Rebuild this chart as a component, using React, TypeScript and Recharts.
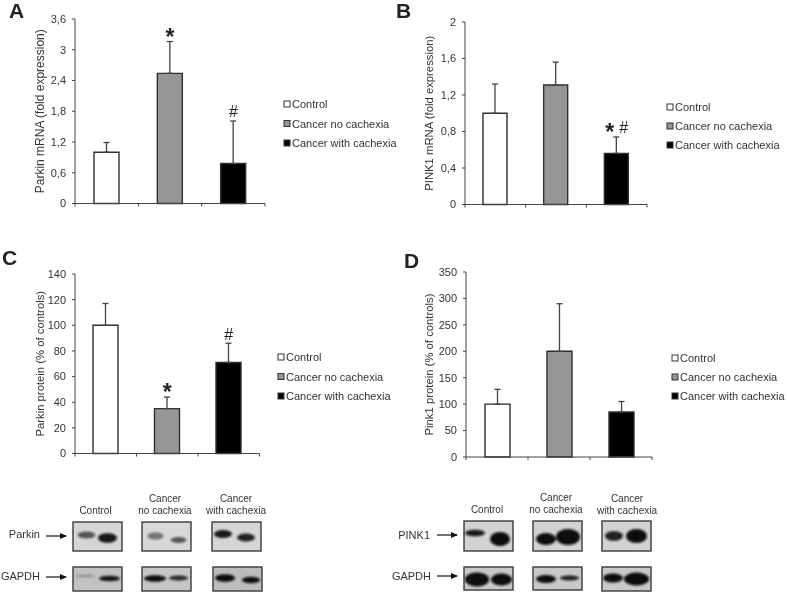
import { Bar, Cell, ComposedChart, ErrorBar, LabelList, Line, XAxis, YAxis } from 'recharts'

const CATEGORIES = ['Control', 'Cancer no cachexia', 'Cancer with cachexia']
const BAR_COLORS = ['#ffffff', '#969696', '#000000']

const parkinMrnaValues = [1.0, 2.54, 0.78]
const parkinMrnaErrors = [0.19, 0.62, 0.83]
const parkinMrnaMarks = ['', '*', '#']
const parkinMrnaTicks = [0, 0.6, 1.2, 1.8, 2.4, 3, 3.6]

const pink1MrnaValues = [1.0, 1.31, 0.56]
const pink1MrnaErrors = [0.32, 0.25, 0.18]
const pink1MrnaMarks = ['', '', '* #']
const pink1MrnaTicks = [0, 0.4, 0.8, 1.2, 1.6, 2]

const parkinProteinValues = [100, 35, 71]
const parkinProteinErrors = [17, 9, 15]
const parkinProteinMarks = ['', '*', '#']
const parkinProteinTicks = [0, 20, 40, 60, 80, 100, 120, 140]

const pink1ProteinValues = [100, 200, 85]
const pink1ProteinErrors = [28, 90, 20]
const pink1ProteinMarks = ['', '', '']
const pink1ProteinTicks = [0, 50, 100, 150, 200, 250, 300, 350]

const FONT = '"Liberation Sans", Arial, sans-serif'
const INK = '#333333'

type Row = { name: string; value: number; err: [number, number]; top: number; mark: string }

function rows(values: number[], errors: number[], marks: string[]): Row[] {
  return CATEGORIES.map((name, i) => ({
    name,
    value: values[i],
    err: [0, errors[i]],
    top: values[i] + errors[i],
    mark: marks[i],
  }))
}

function MarkLabel(props: any) {
  const { x, y, value } = props
  if (!value) return null
  return (
    <g>
      {String(value)
        .split(' ')
        .map((m: string, i: number, all: string[]) => {
          const dx = all.length > 1 ? (i === 0 ? -7 : 7) : 0
          const star = m === '*'
          return (
            <text
              key={i}
              x={x + dx}
              y={star ? y + 3 : y - 3.5}
              textAnchor="middle"
              fontFamily={FONT}
              fontSize={star ? 23 : 16}
              fontWeight={star ? 'bold' : 'normal'}
              fill="#222"
            >
              {m}
            </text>
          )
        })}
    </g>
  )
}

// category axis ticks sit on the band edges, not the band centres
function edgeTick(band: number) {
  return (props: any) => {
    const { x, y, index } = props
    const left = x - band / 2
    return (
      <g stroke="#444" strokeWidth={1}>
        <line x1={left} x2={left} y1={y} y2={y + 3} />
        {index === CATEGORIES.length - 1 ? <line x1={left + band} x2={left + band} y1={y} y2={y + 3} /> : null}
      </g>
    )
  }
}

type PanelProps = {
  left: number
  right: number
  top: number
  bottom: number
  data: Row[]
  ticks: number[]
  max: number
  barSize: number
  title: string
  titleSize: number
  titleX: number
}

const PAD_L = 60
const PAD_T = 10
const PAD_R = 10
const PAD_B = 20

function Panel({ left, right, top, bottom, data, ticks, max, barSize, title, titleSize, titleX }: PanelProps) {
  const plotW = right - left
  const plotH = bottom - top
  return (
    <div style={{ position: 'absolute', left: left - PAD_L, top: top - PAD_T }}>
      <ComposedChart
        width={plotW + PAD_L + PAD_R}
        height={plotH + PAD_T + PAD_B}
        data={data}
        margin={{ top: PAD_T, right: PAD_R, left: 0, bottom: 0 }}
      >
        <XAxis
          dataKey="name"
          height={PAD_B}
          interval={0}
          tickLine={false}
          tickSize={0}
          tickMargin={0}
          tick={edgeTick(plotW / CATEGORIES.length)}
          stroke="#444"
        />
        <YAxis
          width={PAD_L}
          domain={[0, max]}
          ticks={ticks}
          interval={0}
          tickSize={3}
          tickMargin={6}
          stroke="#444"
          tick={{ fontSize: 11, fontFamily: FONT, fill: INK }}
          tickFormatter={(v: number) => String(v).replace('.', ',')}
          label={{
            value: title,
            angle: -90,
            position: 'insideLeft',
            offset: titleX - (left - PAD_L),
            textAnchor: 'middle',
            style: { fontSize: titleSize, fontFamily: FONT, fill: INK, textAnchor: 'middle' },
          }}
        />
        <Bar dataKey="value" barSize={barSize} stroke="#2f2f2f" strokeWidth={1.4} isAnimationActive={false}>
          {data.map((d, i) => (
            <Cell key={d.name} fill={BAR_COLORS[i]} />
          ))}
          <ErrorBar dataKey="err" direction="y" width={3} stroke="#444" strokeWidth={1.3} isAnimationActive={false} />
        </Bar>
        <Line dataKey="top" stroke="none" dot={false} activeDot={false} isAnimationActive={false}>
          <LabelList dataKey="mark" content={MarkLabel} />
        </Line>
      </ComposedChart>
    </div>
  )
}

function LegendBlock({ x, y, gap }: { x: number; y: number; gap: number }) {
  return (
    <g fontFamily={FONT} fontSize={11} fill={INK}>
      {CATEGORIES.map((name, i) => (
        <g key={name}>
          <rect x={x} y={y + i * gap - 3} width={6} height={6} fill={BAR_COLORS[i]} stroke="#333" strokeWidth={1} />
          <text x={x + 8} y={y + i * gap + 4}>
            {name}
          </text>
        </g>
      ))}
    </g>
  )
}

type Band = [number, number, number, number, number]
type Blot = { x: number; y: number; w: number; h: number; bg: string; bands: Band[] }

// western blot strips, drawn as blurred bands: [cx, cy, rx, ry, opacity]
const BLOTS: Blot[] = [
  { x: 73, y: 522, w: 49, h: 29, bg: '#d6d6d6', bands: [[13.5, 13, 9, 3.5, 0.6], [34.5, 16, 9.5, 4.8, 0.95]] },
  { x: 142, y: 522, w: 49, h: 29, bg: '#d8d8d8', bands: [[13.5, 14, 8, 3.8, 0.45], [36.5, 18, 8, 3, 0.6]] },
  { x: 212, y: 522, w: 49, h: 29, bg: '#d6d6d6', bands: [[11, 12, 9, 4, 0.95], [34, 15.5, 9, 4, 0.9]] },
  { x: 73, y: 567, w: 49, h: 24, bg: '#c2c2c2', bands: [[12, 9, 10, 1.2, 0.3], [36.5, 11.5, 10.5, 2.8, 0.95]] },
  { x: 142, y: 567, w: 49, h: 24, bg: '#c6c6c6', bands: [[13, 11.5, 11, 3.3, 1], [36.5, 11, 9.5, 2.4, 0.85]] },
  { x: 213, y: 567, w: 49, h: 24, bg: '#bcbcbc', bands: [[12, 11, 10, 3.8, 1], [38, 13, 9, 3.2, 1]] },
  { x: 464, y: 521, w: 49, h: 30, bg: '#d2d2d2', bands: [[11, 12, 10, 3.2, 0.95], [36, 18, 10, 7, 1]] },
  { x: 533, y: 521, w: 49, h: 30, bg: '#d2d2d2', bands: [[13, 18, 10, 6, 1], [35, 16, 12, 8, 1]] },
  { x: 602, y: 521, w: 49, h: 30, bg: '#d2d2d2', bands: [[12, 15, 9, 4.8, 0.9], [34.5, 15, 10.5, 7, 1]] },
  { x: 464, y: 567, w: 49, h: 23, bg: '#c8c8c8', bands: [[13, 12.5, 12, 7, 1], [37.5, 12.5, 10.5, 6, 1]] },
  { x: 533, y: 567, w: 49, h: 23, bg: '#c8c8c8', bands: [[13, 12, 10, 4, 1], [36.5, 11, 9.5, 2.4, 0.9]] },
  { x: 602, y: 567, w: 49, h: 24, bg: '#c8c8c8', bands: [[11, 11, 10, 4.5, 1], [34.5, 12, 12.5, 6.5, 1]] },
]

type Caption = [string, number, number]
const CAPTIONS: Caption[] = [
  ['Control', 95.5, 514],
  ['Cancer', 165, 502],
  ['no cachexia', 165, 514],
  ['Cancer', 236, 502],
  ['with cachexia', 236, 514],
  ['Control', 487, 513],
  ['Cancer', 556, 501],
  ['no cachexia', 556, 513],
  ['Cancer', 627, 502],
  ['with cachexia', 627, 514],
]

const ROW_LABELS: Caption[] = [
  ['Parkin', 40, 538],
  ['GAPDH', 40, 580],
  ['PINK1', 430, 539],
  ['GAPDH', 431, 580],
]

const ARROWS: [number, number, number][] = [
  [46, 66, 536],
  [46, 66, 577],
  [437, 457, 535],
  [437, 457, 576],
]

const LETTERS: Caption[] = [
  ['A', 9, 18],
  ['B', 396, 18],
  ['C', 2, 265],
  ['D', 404, 268],
]

export default function App() {
  return (
    <div
      style={{
        position: 'absolute',
        left: 0,
        top: 0,
        width: 787,
        height: 595,
        overflow: 'hidden',
        background: '#fff',
        filter: 'blur(0.35px)',
      }}
    >
      <Panel left={75} right={265} top={19} bottom={203.5} data={rows(parkinMrnaValues, parkinMrnaErrors, parkinMrnaMarks)} ticks={parkinMrnaTicks} max={3.6} barSize={25} title="Parkin mRNA (fold expression)" titleSize={12} titleX={40} />
      <Panel left={465} right={647} top={21.5} bottom={204} data={rows(pink1MrnaValues, pink1MrnaErrors, pink1MrnaMarks)} ticks={pink1MrnaTicks} max={2} barSize={24} title="PINK1 mRNA (fold expression)" titleSize={11.3} titleX={429} />
      <Panel left={75} right={259.5} top={273.5} bottom={453} data={rows(parkinProteinValues, parkinProteinErrors, parkinProteinMarks)} ticks={parkinProteinTicks} max={140} barSize={25} title="Parkin protein (% of controls)" titleSize={11.3} titleX={40} />
      <Panel left={466} right={652} top={272} bottom={457} data={rows(pink1ProteinValues, pink1ProteinErrors, pink1ProteinMarks)} ticks={pink1ProteinTicks} max={350} barSize={25} title="Pink1 protein (% of controls)" titleSize={11.3} titleX={429} />

      <svg width={787} height={595} style={{ position: 'absolute', left: 0, top: 0 }}>
        <defs>
          <filter id="soft" x="-30%" y="-60%" width="160%" height="220%">
            <feGaussianBlur stdDeviation="1.3" />
          </filter>
          <marker id="head" markerWidth="6" markerHeight="6" refX="5" refY="3" orient="auto">
            <path d="M0,0.5 L6,3 L0,5.5 Z" fill="#111" />
          </marker>
        </defs>

        <LegendBlock x={284} y={104} gap={19.5} />
        <LegendBlock x={667} y={107} gap={19} />
        <LegendBlock x={278} y={357} gap={19.5} />
        <LegendBlock x={672} y={358} gap={19} />

        {LETTERS.map(([t, x, y]) => (
          <text key={t} x={x} y={y} fontFamily={FONT} fontWeight="bold" fontSize={21} fill="#222">
            {t}
          </text>
        ))}

        <g fontFamily={FONT} fontSize={10} fill={INK} textAnchor="middle">
          {CAPTIONS.map(([t, x, y], i) => (
            <text key={i} x={x} y={y}>
              {t}
            </text>
          ))}
        </g>
        <g fontFamily={FONT} fontSize={11} fill={INK} textAnchor="end">
          {ROW_LABELS.map(([t, x, y], i) => (
            <text key={i} x={x} y={y}>
              {t}
            </text>
          ))}
        </g>
        {ARROWS.map(([x1, x2, y], i) => (
          <line key={i} x1={x1} x2={x2} y1={y} y2={y} stroke="#111" strokeWidth={1.2} markerEnd="url(#head)" />
        ))}

        {BLOTS.map((b, i) => (
          <g key={i} transform={`translate(${b.x},${b.y})`}>
            <rect width={b.w} height={b.h} fill={b.bg} />
            <g filter="url(#soft)">
              {b.bands.map(([cx, cy, rx, ry, o], j) => (
                <ellipse key={j} cx={cx} cy={cy} rx={rx} ry={ry} fill="#0a0a0a" opacity={o} />
              ))}
            </g>
            <rect width={b.w} height={b.h} fill="none" stroke="#3a3a3a" strokeWidth={1.4} />
          </g>
        ))}
      </svg>
    </div>
  )
}
